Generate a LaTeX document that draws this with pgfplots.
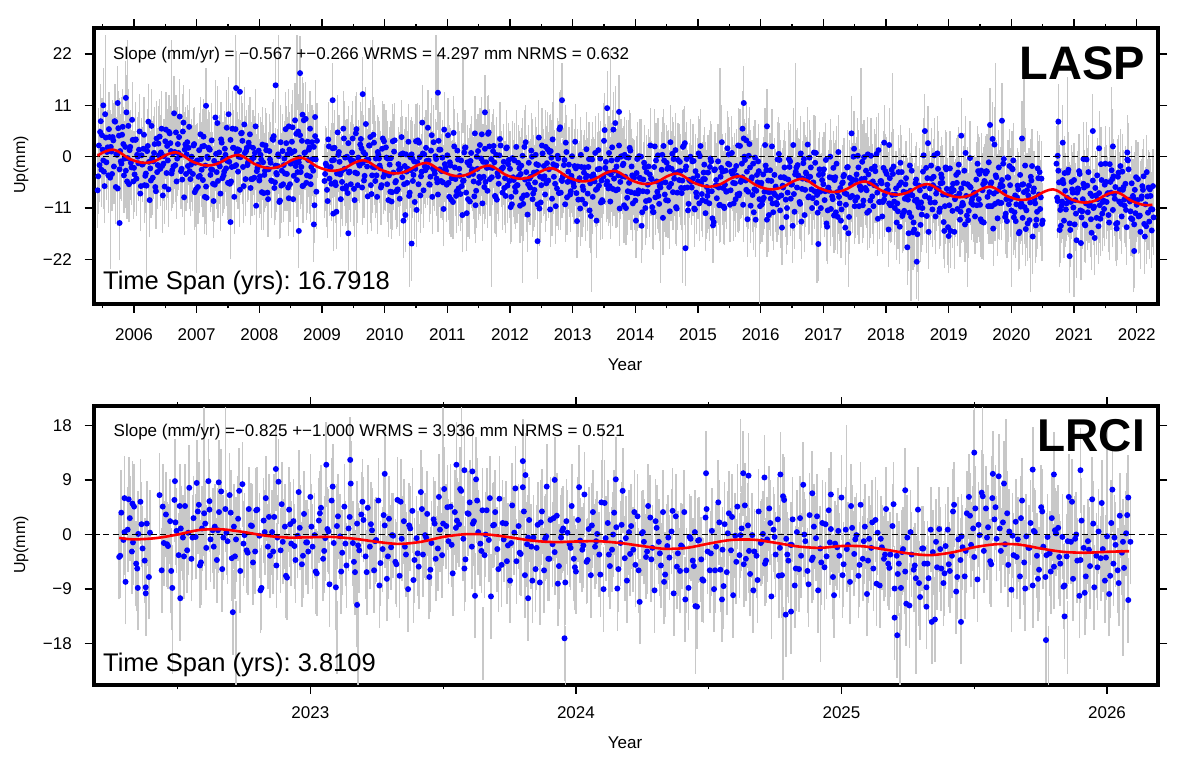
\documentclass[border=0pt]{standalone}
\usepackage{fontspec}
\setmainfont{Liberation Sans}
\usepackage{pgfplots}
\usepackage{pgfplotstable}
\pgfplotsset{compat=1.18}
\frenchspacing
\definecolor{eb}{RGB}{200,200,200}
\definecolor{dotblue}{RGB}{0,0,255}
\definecolor{fitred}{RGB}{255,0,0}

% light-weight marks: a vertical error bar of +-8 mm (top panel: 4.669 pt/mm),
% of +-7 mm (bottom panel: 6.068 pt/mm), and a round dot (zero-length stroke)
\pgfdeclareplotmark{ebarT}{\pgfpathmoveto{\pgfqpoint{0pt}{-37.35pt}}\pgfpathlineto{\pgfqpoint{0pt}{37.35pt}}\pgfusepathqstroke}
\pgfdeclareplotmark{ebarB}{\pgfpathmoveto{\pgfqpoint{0pt}{-42.5pt}}\pgfpathlineto{\pgfqpoint{0pt}{42.5pt}}\pgfusepathqstroke}
\pgfdeclareplotmark{zdot}{\pgfpathmoveto{\pgfqpoint{0pt}{0pt}}\pgfpathlineto{\pgfqpoint{0pt}{0pt}}\pgfusepathqstroke}

% time axis: years since 2000 (tick labels give the calendar year)
\pgfplotstableread{
t y
5.42 -7.2
5.44 2.4
5.46 5.3
5.48 -2.8
5.50 1.5
5.52 -3.2
5.54 9.1
5.56 -1.2
5.58 2.0
5.60 5.9
5.62 -4.5
5.64 1.1
5.66 4.2
5.68 -2.1
5.70 7.5
5.72 0.5
5.74 -6.8
5.76 4.5
5.78 1.2
5.80 -1.5
5.82 6.4
5.84 -4.0
5.86 2.1
5.88 9.5
5.90 -0.3
5.92 -5.9
5.94 2.1
5.96 -2.3
5.98 3.6
6.00 -2.4
6.02 3.6
6.04 -4.7
6.06 0.0
6.08 1.5
6.10 -7.9
6.12 0.3
6.14 -1.6
6.16 4.7
6.18 -4.1
6.20 -6.2
6.22 2.3
6.24 -1.1
6.26 -2.5
6.28 6.6
6.30 -4.5
6.32 0.8
6.34 -6.5
6.36 3.9
6.38 -1.8
6.40 0.3
6.42 -2.6
6.44 6.0
6.46 -8.3
6.48 0.1
6.50 3.3
6.52 -3.5
6.54 -0.8
6.56 5.3
6.58 2.9
6.60 -3.6
6.62 0.7
6.64 9.3
6.66 -1.8
6.68 -5.3
6.70 2.7
6.72 4.2
6.74 0.3
6.76 -2.6
6.78 5.4
6.80 -8.7
6.82 2.6
6.84 0.5
6.86 -2.0
6.88 6.4
6.90 -4.8
6.92 0.0
6.94 -3.7
6.96 2.7
6.98 -1.3
7.00 -1.0
7.02 -6.5
7.04 1.4
7.06 4.8
7.08 -2.8
7.10 -5.0
7.12 2.3
7.14 -1.9
7.16 -8.8
7.18 -0.3
7.20 1.6
7.22 -3.9
7.24 3.5
7.26 -5.8
7.28 -0.9
7.30 8.4
7.32 -3.3
7.34 -5.2
7.36 0.9
7.38 -7.9
7.40 3.0
7.42 -0.6
7.44 -3.2
7.46 0.4
7.48 6.2
7.50 -5.6
7.52 -1.1
7.54 3.6
7.56 -2.2
7.58 1.9
7.60 -8.6
7.62 5.9
7.64 0.8
7.66 -3.2
7.68 1.4
7.70 -0.1
7.72 5.1
7.74 -2.2
7.76 6.9
7.78 -4.8
7.80 1.9
7.82 -1.2
7.84 2.2
7.86 -6.7
7.88 -0.6
7.90 1.9
7.92 -4.5
7.94 6.5
7.96 -3.1
7.98 -1.7
8.00 -5.1
8.02 0.4
8.04 -7.6
8.06 -1.2
8.08 -3.9
8.10 2.4
8.12 -2.6
8.14 -9.1
8.16 1.2
8.18 -1.3
8.20 -5.2
8.22 3.6
8.24 -6.7
8.26 -1.9
8.28 -3.8
8.30 0.5
8.32 -9.7
8.34 3.1
8.36 -3.0
8.38 -5.9
8.40 -0.4
8.42 5.9
8.44 -3.7
8.46 -6.6
8.48 1.5
8.50 -1.5
8.52 3.2
8.54 -9.1
8.56 1.2
8.58 -2.0
8.60 -5.0
8.62 5.4
8.64 -0.2
8.66 -3.3
8.68 3.4
8.70 -6.2
8.72 0.8
8.74 8.1
8.76 -4.0
8.78 -0.7
8.80 2.0
8.82 -5.9
8.84 3.1
8.86 -3.0
8.88 -10.4
8.90 -0.6
8.92 3.4
9.04 -5.2
9.06 -1.5
9.08 -7.1
9.10 3.7
9.12 -4.7
9.14 -2.2
9.16 -0.8
9.18 -12.2
9.20 1.9
9.22 -6.1
9.24 -3.6
9.26 0.4
9.28 -1.1
9.30 -9.1
9.32 -5.4
9.34 6.0
9.36 -2.6
9.38 -6.9
9.40 0.0
9.42 2.9
9.44 -3.2
9.46 -5.9
9.48 0.9
9.50 -0.9
9.52 -9.3
9.54 5.0
9.56 -3.6
9.58 -0.2
9.60 -1.9
9.62 3.8
9.64 -6.6
9.66 1.0
9.68 -4.1
9.70 7.0
9.72 -2.1
9.74 -0.6
9.76 2.4
9.78 -6.1
9.80 -4.0
9.82 4.7
9.84 -2.3
9.86 -0.4
9.88 -8.6
9.90 0.4
9.92 -1.9
9.94 -6.6
9.96 1.7
9.98 -4.3
10.00 -3.5
10.02 2.0
10.04 -5.9
10.06 -9.3
10.08 -1.7
10.10 -0.3
10.12 -7.6
10.14 -3.4
10.16 3.5
10.18 -5.2
10.20 -7.1
10.22 -1.6
10.24 -9.0
10.26 0.5
10.28 -4.4
10.30 -13.7
10.32 -2.0
10.34 0.5
10.36 -5.6
10.38 3.2
10.40 -7.7
10.42 -2.9
10.44 -0.3
10.46 -3.9
10.48 -9.7
10.50 3.3
10.52 -1.2
10.54 -5.9
10.56 -0.1
10.58 -4.2
10.60 7.3
10.62 -7.2
10.64 -2.1
10.66 1.9
10.68 -2.3
10.70 -0.8
10.72 -6.0
10.74 1.3
10.76 -8.6
10.78 3.1
10.80 -3.6
10.82 -0.5
10.84 -5.5
10.86 3.4
10.88 -2.7
10.90 -5.2
10.92 -0.2
10.94 -11.2
10.96 -1.6
10.98 -3.0
11.00 0.3
11.02 -5.6
11.04 -1.2
11.06 -9.2
11.08 -4.4
11.10 5.1
11.12 -2.3
11.14 -8.4
11.16 1.3
11.18 -6.8
11.20 -4.1
11.22 -0.8
11.24 -12.5
11.26 -5.1
11.28 1.9
11.30 -7.7
11.32 -1.2
11.34 -4.0
11.36 -9.6
11.38 0.8
11.40 -2.7
11.42 -5.3
11.44 5.0
11.46 -7.3
11.48 -2.6
11.50 -5.6
11.52 2.5
11.54 -0.4
11.56 -10.0
11.58 -4.3
11.60 1.7
11.62 -1.2
11.64 -7.3
11.66 5.2
11.68 -4.8
11.70 -0.5
11.72 -2.4
11.74 2.3
11.76 -8.4
11.78 0.4
11.80 -3.5
11.82 -5.8
11.84 3.8
11.86 -2.7
11.88 -7.7
11.90 -1.1
11.92 -4.6
11.94 1.8
11.96 -6.2
11.98 -0.7
12.00 -2.6
12.02 -8.6
12.04 -0.3
12.06 -5.0
12.08 -6.5
12.10 2.1
12.12 -6.1
12.14 -4.2
12.16 -10.5
12.18 -1.9
12.20 0.2
12.22 -8.3
12.24 -4.9
12.26 -3.3
12.28 -12.4
12.30 -1.3
12.32 -6.6
12.34 1.3
12.36 -9.1
12.38 -3.4
12.40 -5.5
12.42 -1.6
12.44 -10.2
12.46 4.1
12.48 -4.3
12.50 -6.1
12.52 0.7
12.54 -2.0
12.56 -8.1
12.58 -5.7
12.60 1.6
12.62 -2.7
12.64 -11.3
12.66 -0.2
12.68 3.7
12.70 -4.3
12.72 -5.8
12.74 -1.9
12.76 0.2
12.78 -7.8
12.80 6.3
12.82 -5.0
12.84 -4.3
12.86 -1.8
12.88 -10.2
12.90 1.0
12.92 -5.4
12.94 -1.7
12.96 -8.1
12.98 -4.1
13.00 -5.0
13.02 -6.4
13.04 3.2
13.06 -7.8
13.08 -2.1
13.10 -5.0
13.12 -11.1
13.14 -2.2
13.16 -6.4
13.18 -3.4
13.20 -10.1
13.22 1.6
13.24 -7.9
13.26 -0.5
13.28 -5.7
13.30 -4.2
13.32 -8.6
13.34 -4.3
13.36 0.8
13.38 -13.7
13.40 -2.7
13.42 -6.2
13.44 -0.4
13.46 -5.1
13.48 -9.6
13.50 3.4
13.52 -2.4
13.54 -6.0
13.56 -3.4
13.58 0.8
13.60 -9.6
13.62 -0.8
13.64 -6.9
13.66 -4.7
13.68 7.2
13.70 -2.1
13.72 -7.0
13.74 2.4
13.76 -5.4
13.78 0.1
13.80 -1.8
13.82 -10.4
13.84 -4.3
13.86 -0.1
13.88 -7.4
13.90 -5.6
13.92 1.3
13.94 -2.1
13.96 -10.0
13.98 -4.5
14.00 -9.4
14.02 -3.5
14.04 -7.9
14.06 0.1
14.08 -4.7
14.10 -14.8
14.12 -7.4
14.14 -1.3
14.16 -11.0
14.18 -3.3
14.20 -6.0
14.22 -9.3
14.24 2.4
14.26 -4.8
14.28 -11.8
14.30 -2.2
14.32 -8.7
14.34 -5.3
14.36 0.3
14.38 -10.1
14.40 -6.6
14.42 -2.8
14.44 -13.1
14.46 -0.8
14.48 -5.5
14.50 -1.3
14.52 -9.4
14.54 -6.5
14.56 3.1
14.58 -2.6
14.60 -7.6
14.62 -4.7
14.64 1.4
14.66 -11.1
14.68 -0.7
14.70 -5.0
14.72 -3.1
14.74 -7.8
14.76 2.1
14.78 -6.7
14.80 -2.8
14.82 -0.5
14.84 -11.5
14.86 -5.0
14.88 0.0
14.90 -6.6
14.92 -4.7
14.94 -11.1
14.96 -3.1
14.98 -8.6
15.00 -5.3
15.02 -10.0
15.04 2.3
15.06 -8.0
15.08 -4.8
15.10 -1.7
15.12 -12.1
15.14 -6.5
15.16 -3.4
15.18 -10.0
15.20 -0.4
15.22 -7.4
15.24 -14.7
15.26 -2.9
15.28 -6.2
15.30 -8.9
15.32 -1.0
15.34 -10.4
15.36 -4.3
15.38 3.1
15.40 -6.7
15.42 -11.0
15.44 -3.0
15.46 -7.4
15.48 -1.5
15.50 -1.7
15.52 -7.2
15.54 0.8
15.56 -5.6
15.58 -2.9
15.60 -9.1
15.62 -4.1
15.64 2.4
15.66 -7.9
15.68 -5.4
15.70 -1.5
15.72 -10.3
15.74 0.0
15.76 -5.1
15.78 -3.2
15.80 -7.5
15.82 2.7
15.84 -10.5
15.86 -4.4
15.88 -1.5
15.90 -7.0
15.92 -13.5
15.94 -3.9
15.96 -1.0
15.98 -9.1
16.00 -6.2
16.02 -10.2
16.04 -3.8
16.06 -7.5
16.08 -1.9
16.10 -13.5
16.12 -5.1
16.14 -7.6
16.16 -9.0
16.18 2.2
16.20 -11.9
16.22 -3.9
16.24 -6.4
16.26 -10.2
16.28 -8.7
16.30 -0.7
16.32 -4.4
16.34 -15.2
16.36 -6.6
16.38 -2.3
16.40 -9.2
16.42 -11.0
16.44 -4.9
16.46 -2.2
16.48 -9.0
16.50 -5.9
16.52 2.5
16.54 -11.8
16.56 -3.2
16.58 -6.6
16.60 -4.0
16.62 -9.7
16.64 0.7
16.66 -6.9
16.68 -1.4
16.70 -12.5
16.72 -3.4
16.74 -4.9
16.76 -8.7
16.78 -0.2
16.80 -2.3
16.82 -11.0
16.84 -5.5
16.86 -7.4
16.88 0.8
16.90 -8.2
16.92 -7.4
16.94 -2.7
16.96 -11.0
16.98 -5.0
17.00 -5.9
17.02 -9.3
17.04 -0.7
17.06 -15.0
17.08 -6.6
17.10 -4.4
17.12 -11.2
17.14 -8.5
17.16 -2.4
17.18 -5.0
17.20 -11.9
17.22 -7.6
17.24 1.0
17.26 -10.0
17.28 -13.7
17.30 -5.7
17.32 -4.2
17.34 -7.8
17.36 -10.3
17.38 -2.3
17.40 -16.4
17.42 -4.5
17.44 -5.9
17.46 -8.4
17.48 0.0
17.50 -10.6
17.52 -5.0
17.54 -8.7
17.56 -2.3
17.58 -6.3
17.60 -7.1
17.62 -1.1
17.64 -9.4
17.66 -4.7
17.68 -3.0
17.70 -12.0
17.72 -3.8
17.74 -5.7
17.76 0.2
17.78 -8.5
17.80 -10.6
17.82 -2.1
17.84 -6.2
17.86 -7.7
17.88 1.4
17.90 -9.7
17.92 -5.2
17.94 -12.8
17.96 -2.4
17.98 -8.1
18.00 -7.4
18.02 -6.0
18.04 -15.6
18.06 -4.6
18.08 -10.3
18.10 -8.2
18.12 -2.1
18.14 -11.0
18.16 -6.8
18.18 -10.0
18.20 -3.3
18.22 -15.0
18.24 -5.5
18.26 -12.7
18.28 -7.5
18.30 -9.0
18.32 -4.6
18.34 -8.3
18.36 -16.4
18.38 -1.9
18.40 -12.9
18.42 -8.3
18.44 -14.1
18.46 -9.4
18.48 -4.9
18.50 -16.6
18.52 -10.8
18.54 -7.2
18.56 -9.8
18.58 -11.0
18.60 0.3
18.62 -8.5
18.64 -2.4
18.66 -4.6
18.68 -16.1
18.70 -6.8
18.72 -1.9
18.74 -11.3
18.76 -4.3
18.78 -9.8
18.80 -7.9
18.82 0.7
18.84 -6.9
18.86 -11.1
18.88 -3.8
18.90 -5.6
18.92 -14.0
18.94 -10.6
18.96 -2.7
18.98 -8.2
19.00 -17.0
19.02 -2.5
19.04 -7.6
19.06 -11.6
19.08 -7.2
19.10 -9.1
19.12 -3.9
19.14 -11.2
19.16 -1.7
19.18 -13.5
19.20 -6.8
19.22 -9.9
19.24 -5.7
19.26 -14.5
19.28 -8.4
19.30 -5.9
19.32 -11.6
19.34 -0.3
19.36 -9.9
19.38 -8.5
19.40 -7.9
19.42 -12.8
19.44 -4.9
19.46 -1.5
19.48 -9.1
19.50 -10.3
19.52 -3.0
19.54 -7.2
19.56 -14.1
19.58 -5.5
19.60 -3.1
19.62 -8.6
19.64 -1.2
19.66 -10.6
19.68 -5.5
19.70 3.8
19.72 -7.9
19.74 -10.1
19.76 -4.4
19.78 -13.2
19.80 -2.3
19.82 -6.5
19.84 -9.9
19.86 -6.3
19.88 -0.5
19.90 -12.9
19.92 -9.1
19.94 -4.4
19.96 -10.2
19.98 -6.1
20.00 -11.5
20.02 -2.7
20.04 -13.0
20.06 -8.3
20.08 -10.2
20.10 -6.2
20.12 -16.4
20.14 -3.9
20.16 -10.0
20.18 -13.1
20.20 -7.6
20.22 -1.9
20.24 -11.5
20.26 -14.3
20.28 -6.2
20.30 -9.8
20.32 -5.1
20.34 -17.1
20.36 -6.8
20.38 -10.0
20.40 -13.5
20.42 -2.5
20.44 -8.1
20.46 -11.2
20.48 -4.7
20.50 -13.7
20.72 -1.5
20.74 -9.5
20.76 -5.5
20.78 -11.4
20.80 -10.5
20.82 -5.0
20.84 -13.7
20.86 -7.3
20.88 -10.0
20.90 -3.4
20.92 -9.2
20.94 -15.7
20.96 -5.4
20.98 -7.7
21.00 -5.0
21.02 -9.3
21.04 -17.9
21.06 -6.8
21.08 -3.1
21.10 -11.5
21.12 -13.0
21.14 -9.1
21.16 -6.6
21.18 -14.7
21.20 -0.6
21.22 -11.9
21.24 -10.5
21.26 -7.9
21.28 -16.3
21.30 -5.1
21.32 -10.7
21.34 -6.7
21.36 -13.1
21.38 -9.1
21.40 -7.8
21.42 -13.3
21.44 -5.0
21.46 -9.7
21.48 -11.2
21.50 -1.5
21.52 -9.7
21.54 -7.8
21.56 -14.1
21.58 -5.4
21.60 -2.9
21.62 -11.4
21.64 -8.0
21.66 -6.5
21.68 -15.4
21.70 -4.3
21.72 -9.6
21.74 -2.0
21.76 -12.8
21.78 -7.1
21.80 -9.2
21.82 -5.8
21.84 -15.1
21.86 -0.8
21.88 -9.2
21.90 -11.7
21.92 -5.7
21.94 -8.4
21.96 -14.5
21.98 -12.1
22.00 -10.3
22.02 -4.8
22.04 -12.7
22.06 -16.1
22.08 -8.5
22.10 -7.1
22.12 -14.4
22.14 -10.2
22.16 -3.3
22.18 -12.0
22.20 -13.9
22.22 -8.4
22.24 -15.8
22.26 -6.3
5.51 11.0
5.74 11.5
5.87 12.6
5.77 -14.2
7.15 10.9
7.63 14.7
7.69 13.9
7.54 -14.0
8.26 15.3
8.65 17.9
8.63 -15.9
8.87 -14.5
8.47 6.5
8.57 7.8
8.69 9.0
8.81 6.0
8.89 8.5
9.17 12.1
9.65 13.4
9.42 -16.4
10.43 -18.6
10.85 13.7
11.60 9.5
12.44 -18.1
12.83 12.1
13.55 10.4
13.74 9.6
14.80 -19.6
15.71 6.0
15.73 11.5
15.77 3.5
16.10 6.5
16.92 -18.7
17.45 5.0
17.97 3.0
18.05 2.5
18.34 -19.4
18.49 -22.5
18.62 5.5
19.20 4.5
19.66 6.8
19.85 7.7
20.17 3.9
20.74 0.2
20.75 7.5
20.82 3.0
20.93 -21.3
21.15 -0.5
21.30 5.5
21.40 1.8
21.62 2.2
21.85 0.9
21.96 -20.2
}\topdata

\pgfplotstableread{
t y
5.45 -1.8
5.49 4.6
5.53 -6.3
5.57 1.0
5.61 4.2
5.65 -3.7
5.69 7.6
5.73 0.4
5.77 -2.7
5.81 4.7
5.85 -0.4
5.89 -5.3
5.93 1.4
5.97 7.9
6.01 -3.8
6.05 0.4
6.09 5.4
6.13 -1.7
6.17 -6.1
6.21 1.2
6.25 -9.3
6.29 -0.3
6.33 2.7
6.37 -3.3
6.41 4.3
6.45 -2.0
6.49 -6.4
6.53 2.3
6.57 5.0
6.61 -2.9
6.65 1.0
6.69 -0.4
6.73 8.6
6.77 -4.9
6.81 1.5
6.85 3.1
6.89 -3.1
6.93 -1.2
6.97 -7.6
7.01 -0.8
7.05 -4.1
7.09 2.2
7.13 -8.6
7.17 0.0
7.21 1.5
7.25 -2.8
7.29 -6.0
7.33 7.2
7.37 -2.1
7.41 -4.6
7.45 1.7
7.49 -0.9
7.53 -5.8
7.57 6.0
7.61 -2.0
7.65 1.6
7.69 -7.1
7.73 3.4
7.77 0.8
7.81 -1.8
7.85 4.8
7.89 -4.8
7.93 0.8
7.97 -2.4
8.01 -4.2
8.05 2.6
8.09 -3.0
8.13 -7.7
8.17 -0.6
8.21 3.8
8.25 -5.5
8.29 -2.0
8.33 -9.4
8.37 1.2
8.41 -3.6
8.45 0.5
8.49 -5.9
8.53 6.3
8.57 -1.0
8.61 -3.3
8.65 4.6
8.69 -6.3
8.73 0.9
8.77 3.2
8.81 -4.2
8.85 -0.5
8.89 4.4
9.05 -3.7
9.09 -9.5
9.13 -2.4
9.17 1.8
9.21 -5.5
9.25 5.2
9.29 -3.8
9.33 -6.8
9.37 -0.2
9.41 -7.8
9.45 -0.5
9.49 3.9
9.53 -3.4
9.57 -6.1
9.61 2.6
9.65 -1.3
9.69 0.5
9.73 -8.5
9.77 4.2
9.81 -2.2
9.85 -5.2
9.89 1.0
9.93 -2.5
9.97 3.9
10.01 -3.7
10.05 -0.4
10.09 -7.5
10.13 3.3
10.17 -5.5
10.21 -7.0
10.25 -2.5
10.29 0.7
10.33 -12.5
10.37 -2.6
10.41 -0.1
10.45 -5.2
10.49 -2.6
10.53 3.5
10.57 -8.3
10.61 0.7
10.65 -2.9
10.69 6.2
10.73 -4.3
10.77 -2.5
10.81 0.1
10.85 -8.1
10.89 1.5
10.93 -5.5
10.97 -2.3
11.01 4.6
11.05 -1.9
11.09 -9.7
11.13 -4.8
11.17 -0.6
11.21 -8.0
11.25 -5.2
11.29 2.0
11.33 -9.1
11.37 -0.9
11.41 -3.7
11.45 -10.4
11.49 1.2
11.53 -4.6
11.57 -1.1
11.61 -5.4
11.65 4.9
11.69 -2.3
11.73 1.2
11.77 -8.6
11.81 -4.2
11.85 2.4
11.89 -2.3
11.93 -8.4
11.97 -1.6
12.01 -10.8
12.05 -4.4
12.09 -7.5
12.13 -1.3
12.17 -3.7
12.21 -10.1
12.25 3.1
12.29 -5.9
12.33 -4.3
12.37 -7.9
12.41 0.4
12.45 -1.8
12.49 -9.8
12.53 -4.7
12.57 2.1
12.61 -5.1
12.65 1.2
12.69 -1.6
12.73 -10.6
12.77 -0.4
12.81 -7.7
12.85 -4.1
12.89 3.0
12.93 -3.2
12.97 -7.4
13.01 -5.7
13.05 -2.5
13.09 -9.2
13.13 0.4
13.17 -7.1
13.21 -4.5
13.25 -2.2
13.29 -12.7
13.33 -3.8
13.37 -7.1
13.41 1.4
13.45 -9.8
13.49 -4.3
13.53 -1.1
13.57 -6.8
13.61 -3.8
13.65 5.8
13.69 -7.2
13.73 -4.0
13.77 0.0
13.81 -1.5
13.85 -11.0
13.89 -0.2
13.93 -7.6
13.97 -4.3
14.01 -13.7
14.05 -7.2
14.09 0.0
14.13 -4.9
14.17 -9.5
14.21 -2.1
14.25 -4.7
14.29 -11.9
14.33 -0.8
14.37 -8.4
14.41 -5.6
14.45 2.3
14.49 -9.3
14.53 -2.3
14.57 -5.8
14.61 -0.5
14.65 -10.8
14.69 -3.2
14.73 -6.7
14.77 2.3
14.81 -2.1
14.85 -10.1
14.89 -5.4
14.93 -0.9
14.97 -7.7
15.01 0.7
15.05 -5.7
15.09 -3.4
15.13 -9.6
15.17 -7.4
15.21 -1.0
15.25 -14.0
15.29 -5.0
15.33 -6.6
15.37 -2.4
15.41 -10.7
15.45 -7.5
15.49 0.5
15.53 -3.2
15.57 -10.0
15.61 -2.0
15.65 -8.3
15.69 -5.1
15.73 3.9
15.77 -7.1
15.81 0.2
15.85 -4.8
15.89 -11.9
15.93 -7.3
15.97 -3.1
16.01 -5.6
16.05 -8.8
16.09 -2.9
16.13 -12.5
16.17 -5.2
16.21 -7.8
16.25 -9.9
16.29 0.6
16.33 -8.3
16.37 -4.4
16.41 -12.9
16.45 -0.5
16.49 -6.0
16.53 -8.0
16.57 -2.3
16.61 -4.3
16.65 -13.9
16.69 -0.5
16.73 -3.7
16.77 -8.5
16.81 -7.0
16.85 0.9
16.89 -9.9
16.93 -3.9
16.97 -7.2
17.01 -2.7
17.05 -14.3
17.09 -7.3
17.13 -4.5
17.17 -12.6
17.21 -1.5
17.25 -8.6
17.29 -11.3
17.33 -3.9
17.37 -8.0
17.41 -12.9
17.45 -4.8
17.49 1.7
17.53 -3.8
17.57 -10.6
17.61 -4.8
17.65 -0.1
17.69 -7.2
17.73 -11.6
17.77 -2.6
17.81 -6.1
17.85 0.6
17.89 -9.7
17.93 -5.7
17.97 -9.2
18.01 -3.7
18.05 -10.0
18.09 -2.8
18.13 -9.6
18.17 -14.1
18.21 -6.1
18.25 -3.3
18.29 -11.6
18.33 -7.7
18.37 -12.0
18.41 -3.0
18.45 -15.6
18.49 -9.2
18.53 -6.2
18.57 -12.4
18.61 -6.3
18.65 -12.7
18.69 -8.9
18.73 -4.7
18.77 0.3
18.81 -6.8
18.85 -11.8
18.89 -4.5
18.93 -15.9
18.97 -6.9
19.01 -10.4
19.05 -6.8
19.09 -16.1
19.13 -5.6
19.17 -7.9
19.21 -10.5
19.25 -3.0
19.29 -12.6
19.33 -6.3
19.37 -9.2
19.41 -7.7
19.45 -10.4
19.49 -3.7
19.53 -13.9
19.57 -5.2
19.61 -3.2
19.65 -7.6
19.69 -10.6
19.73 2.6
19.77 -7.4
19.81 -9.9
19.85 -5.0
19.89 -7.6
19.93 -13.8
19.97 -2.0
20.01 -2.5
20.05 -11.9
20.09 -8.7
20.13 -16.1
20.17 -6.0
20.21 -10.8
20.25 -7.2
20.29 -13.6
20.33 -2.0
20.37 -9.0
20.41 -11.8
20.45 -3.3
20.49 -14.4
20.73 -8.8
20.77 -15.7
20.81 -9.6
20.85 -3.5
20.89 -8.8
20.93 -14.3
20.97 -7.0
21.01 -14.5
21.05 -7.7
21.09 -3.7
21.13 -11.7
21.17 -14.5
21.21 -6.2
21.25 -10.0
21.29 -8.4
21.33 -17.4
21.37 -4.0
21.41 -10.4
21.45 -12.2
21.49 -6.0
21.53 -8.0
21.57 -1.6
21.61 -4.8
21.65 -9.0
21.69 -14.2
21.73 -7.1
21.77 -3.2
21.81 -10.5
21.85 -0.6
21.89 -9.6
21.93 -13.4
21.97 -7.1
22.01 -9.3
22.05 -12.6
22.09 -6.3
22.13 -17.1
22.17 -8.5
22.21 -7.0
22.25 -11.3
}\topdataB

\pgfplotstableread{
t y
5.43 -4.2
5.47 7.6
5.51 -0.8
5.55 4.1
5.59 -4.0
5.63 2.1
5.67 3.5
5.71 -6.5
5.75 6.1
5.79 -1.0
5.83 2.7
5.87 -3.0
5.91 6.6
5.95 -1.3
5.99 -5.3
6.03 3.7
6.07 -1.4
6.11 -6.3
6.15 1.7
6.19 -3.6
6.23 7.5
6.27 -5.1
6.31 -1.0
6.35 -7.4
6.39 2.8
6.43 0.9
6.47 -1.5
6.51 5.8
6.55 -7.0
6.59 1.2
6.63 -2.1
6.67 5.2
6.71 0.8
6.75 -3.1
6.79 7.3
6.83 -3.7
6.87 1.9
6.91 -1.7
6.95 2.4
6.99 -7.0
7.03 -4.3
7.07 -0.5
7.11 4.3
7.15 -6.4
7.19 1.9
7.23 -2.7
7.27 -9.5
7.31 0.6
7.35 -1.5
7.39 3.7
7.43 -4.0
7.47 -2.5
7.51 9.1
7.55 -5.3
7.59 1.9
7.63 -1.8
7.67 0.0
7.71 5.0
7.75 -6.3
7.79 1.2
7.83 3.0
7.87 -4.8
7.91 -0.2
7.95 -10.5
7.99 1.3
8.03 -0.6
8.07 -7.8
8.11 1.4
8.15 -2.7
8.19 -5.1
8.23 4.4
8.27 -3.5
8.31 0.1
8.35 -6.2
8.39 -1.8
8.43 2.9
8.47 -8.9
8.51 0.8
8.55 -4.1
8.59 4.9
8.63 -1.2
8.67 -2.2
8.71 7.8
8.75 -5.6
8.79 1.5
8.83 -2.2
8.87 2.1
8.91 -7.5
9.07 -1.9
9.11 2.2
9.15 -5.8
9.19 -0.7
9.23 -11.8
9.27 1.0
9.31 -3.1
9.35 3.9
9.39 -6.3
9.43 -3.4
9.47 -1.0
9.51 -6.9
9.55 5.9
9.59 -1.5
9.63 1.8
9.67 -5.1
9.71 -0.7
9.75 2.4
9.79 -8.0
9.83 3.0
9.87 -4.0
9.91 -0.4
9.95 -6.1
9.99 3.3
10.03 -0.2
10.07 -4.0
10.11 -9.6
10.15 1.1
10.19 -7.4
10.23 -2.8
10.27 4.2
10.31 -5.9
10.35 -3.2
10.39 -8.4
10.43 0.5
10.47 -1.0
10.51 -11.4
10.55 3.0
10.59 -3.2
10.63 0.5
10.67 -0.9
10.71 -5.9
10.75 4.6
10.79 -2.9
10.83 -4.7
10.87 1.5
10.91 -3.1
10.95 5.8
10.99 -6.0
11.03 -8.6
11.07 -4.6
11.11 2.2
11.15 -7.4
11.19 -2.6
11.23 -6.3
11.27 0.9
11.31 -12.1
11.35 -1.8
11.39 -3.0
11.43 -8.5
11.47 0.0
11.51 -4.3
11.55 4.8
11.59 -6.5
11.63 -2.4
11.67 2.2
11.71 -4.4
11.75 -1.2
11.79 -9.2
11.83 0.3
11.87 -2.6
11.91 -6.7
11.95 2.0
11.99 -5.2
12.03 -10.2
12.07 -0.8
12.11 -6.1
12.15 -2.5
12.19 -8.9
12.23 2.1
12.27 -8.2
12.31 -4.7
12.35 0.0
12.39 -7.1
12.43 -3.3
12.47 -11.1
12.51 2.4
12.55 -4.2
12.59 -1.4
12.63 1.0
12.67 -9.0
12.71 -2.3
12.75 -6.8
12.79 5.9
12.83 -5.2
12.87 -0.7
12.91 -8.7
12.95 -5.0
12.99 0.1
13.03 -2.0
13.07 -13.8
13.11 -4.6
13.15 -9.2
13.19 -2.3
13.23 -4.1
13.27 -11.5
13.31 -0.6
13.35 -5.3
13.39 -6.9
13.43 -2.6
13.47 -9.3
13.51 5.7
13.55 -5.3
13.59 -6.3
13.63 2.0
13.67 -3.0
13.71 -0.6
13.75 -11.1
13.79 -4.2
13.83 0.4
13.87 -8.8
13.91 1.9
13.95 -4.0
13.99 -7.8
14.03 -0.5
14.07 -4.5
14.11 -11.9
14.15 -2.3
14.19 -7.5
14.23 -3.8
14.27 -10.8
14.31 2.2
14.35 -7.5
14.39 -6.3
14.43 0.4
14.47 -8.1
14.51 -2.6
14.55 -11.7
14.59 0.6
14.63 -3.5
14.67 -7.7
14.71 -1.1
14.75 -5.1
14.79 2.9
14.83 -6.6
14.87 -5.1
14.91 -1.0
14.95 -11.3
14.99 -4.1
15.03 0.1
15.07 -9.3
15.11 -4.8
15.15 -8.4
15.19 -2.2
15.23 -13.2
15.27 -2.7
15.31 -6.2
15.35 -10.3
15.39 -3.2
15.43 -6.0
15.47 1.8
15.51 -10.3
15.55 -3.7
15.59 -5.7
15.63 -8.1
15.67 2.3
15.71 -4.4
15.75 -0.7
15.79 -13.4
15.83 -2.3
15.87 -8.2
15.91 -0.2
15.95 -5.5
15.99 -10.6
16.03 -9.3
16.07 2.5
16.11 -7.5
16.15 -2.9
16.19 -10.0
16.23 -8.2
16.27 -0.6
16.31 -11.5
16.35 -6.2
16.39 -4.6
16.43 -7.7
16.47 -1.0
16.51 -14.8
16.55 -3.8
16.59 -1.8
16.63 -10.1
16.67 -4.7
16.71 -7.1
16.75 2.6
16.79 -4.3
16.83 -8.9
16.87 -1.3
16.91 -12.0
16.95 -7.5
16.99 -3.7
17.03 -7.4
17.07 -11.5
17.11 0.0
17.15 -9.1
17.19 -4.4
17.23 -12.9
17.27 -6.7
17.31 -5.5
17.35 -15.2
17.39 -2.2
17.43 -8.7
17.47 -5.0
17.51 -9.4
17.55 0.2
17.59 -6.4
17.63 -10.4
17.67 -6.7
17.71 0.5
17.75 -9.4
17.79 -5.3
17.83 -3.1
17.87 -13.3
17.91 -5.3
17.95 -9.7
17.99 -3.1
18.03 -7.1
18.07 -10.4
18.11 -3.7
18.15 -8.1
18.19 -11.7
18.23 -1.3
18.27 -12.2
18.31 -5.9
18.35 -9.2
18.39 -7.3
18.43 -16.2
18.47 -5.7
18.51 -10.1
18.55 -14.6
18.59 -3.2
18.63 -8.4
18.67 2.9
18.71 -9.8
18.75 -6.1
18.79 -12.8
18.83 -2.6
18.87 -5.7
18.91 -8.1
18.95 -2.3
18.99 -15.1
19.03 -15.9
19.07 -5.8
19.11 -8.6
19.15 -3.4
19.19 -11.8
19.23 -10.3
19.27 0.8
19.31 -13.6
19.35 -6.6
19.39 -10.3
19.43 -8.1
19.47 -3.1
19.51 -13.4
19.55 -5.9
19.59 -3.6
19.63 -10.6
19.67 -5.8
19.71 -15.4
19.75 -4.0
19.79 -9.7
19.83 -5.9
19.87 -1.5
19.91 -12.2
19.95 -4.5
19.99 -9.1
20.03 -0.8
20.07 -13.8
20.11 -7.0
20.15 -10.7
20.19 -5.9
20.23 -15.5
20.27 -8.3
20.31 -4.3
20.35 -7.5
20.39 -14.7
20.43 -4.6
20.47 -8.7
20.75 -3.0
20.79 -14.8
20.83 -5.7
20.87 -11.3
20.91 -2.8
20.95 -9.7
20.99 -10.9
21.03 -12.2
21.07 -7.0
21.11 -18.5
21.15 -5.8
21.19 -10.0
21.23 -3.3
21.27 -13.4
21.31 -11.0
21.35 -8.3
21.39 -14.9
21.43 -1.6
21.47 -9.4
21.51 -5.4
21.55 -12.5
21.59 -7.7
21.63 -4.2
21.67 -14.4
21.71 -3.4
21.75 -10.1
21.79 -6.5
21.83 -11.4
21.87 -2.7
21.91 -13.2
21.95 -8.9
21.99 -4.4
22.03 -12.8
22.07 -9.0
22.11 -4.2
22.15 -14.9
22.19 -6.6
22.23 -11.2
22.27 -13.0
}\topdataC

\pgfplotstableread{
t y e
5.55 14 12
5.62 -14 10
5.90 14 11
6.20 -18 9
6.60 15 10
7.00 -17 8
7.62 16 10
7.95 -18 8
8.30 16 10
8.60 18 8
9.55 -19 8
9.80 16 9
10.40 -19 9
10.82 18 8
11.25 13 8
11.70 -20 8
12.20 -20 7
12.70 13 9
13.30 -21 8
13.60 14 9
14.40 -19 8
14.75 -20 7
15.35 11 8
15.98 -24 8
16.55 12 8
16.90 -20 7
17.40 -20 8
17.60 10 9
18.10 9 9
18.40 -22 9
18.52 -23 8
19.30 -20 8
19.75 11 9
20.00 -21 7
20.20 9 8
20.30 -22 7
20.90 9 8
21.00 -23 7
21.60 6 9
21.95 -22 7
}\topspikes

\pgfplotstableread{
t y
5.417 0.20
5.500 0.86
5.583 1.31
5.667 1.51
5.750 1.11
5.833 0.37
5.917 -0.38
6.000 -0.83
6.083 -1.18
6.167 -1.32
6.250 -1.22
6.333 -0.92
6.417 -0.37
6.500 0.29
6.583 0.74
6.667 0.94
6.750 0.54
6.833 -0.20
6.917 -0.95
7.000 -1.40
7.083 -1.75
7.167 -1.89
7.250 -1.79
7.333 -1.49
7.417 -0.94
7.500 -0.28
7.583 0.17
7.667 0.37
7.750 -0.03
7.833 -0.77
7.917 -1.52
8.000 -1.97
8.083 -2.32
8.167 -2.46
8.250 -2.36
8.333 -2.06
8.417 -1.51
8.500 -0.85
8.583 -0.40
8.667 -0.20
8.750 -0.60
8.833 -1.34
8.917 -2.09
9.000 -2.53
9.083 -2.88
9.167 -3.02
9.250 -2.92
9.333 -2.62
9.417 -2.07
9.500 -1.41
9.583 -0.96
9.667 -0.76
9.750 -1.16
9.833 -1.90
9.917 -2.65
10.000 -3.10
10.083 -3.45
10.167 -3.59
10.250 -3.49
10.333 -3.19
10.417 -2.64
10.500 -1.98
10.583 -1.53
10.667 -1.33
10.750 -1.73
10.833 -2.47
10.917 -3.22
11.000 -3.67
11.083 -4.02
11.167 -4.16
11.250 -4.06
11.333 -3.76
11.417 -3.21
11.500 -2.55
11.583 -2.10
11.667 -1.90
11.750 -2.30
11.833 -3.04
11.917 -3.79
12.000 -4.23
12.083 -4.58
12.167 -4.72
12.250 -4.62
12.333 -4.32
12.417 -3.77
12.500 -3.11
12.583 -2.66
12.667 -2.46
12.750 -2.86
12.833 -3.60
12.917 -4.35
13.000 -4.80
13.083 -5.15
13.167 -5.29
13.250 -5.19
13.333 -4.89
13.417 -4.34
13.500 -3.68
13.583 -3.23
13.667 -3.03
13.750 -3.43
13.833 -4.17
13.917 -4.92
14.000 -5.37
14.083 -5.72
14.167 -5.86
14.250 -5.76
14.333 -5.46
14.417 -4.91
14.500 -4.25
14.583 -3.80
14.667 -3.60
14.750 -4.00
14.833 -4.74
14.917 -5.49
15.000 -5.93
15.083 -6.28
15.167 -6.42
15.250 -6.32
15.333 -6.02
15.417 -5.47
15.500 -4.81
15.583 -4.36
15.667 -4.16
15.750 -4.56
15.833 -5.30
15.917 -6.05
16.000 -6.50
16.083 -6.85
16.167 -6.99
16.250 -6.89
16.333 -6.59
16.417 -6.04
16.500 -5.38
16.583 -4.93
16.667 -4.73
16.750 -5.13
16.833 -5.87
16.917 -6.62
17.000 -7.07
17.083 -7.42
17.167 -7.56
17.250 -7.46
17.333 -7.16
17.417 -6.61
17.500 -5.95
17.583 -5.50
17.667 -5.30
17.750 -5.70
17.833 -6.44
17.917 -7.19
18.000 -7.64
18.083 -7.99
18.167 -8.13
18.250 -8.03
18.333 -7.73
18.417 -7.18
18.500 -6.52
18.583 -6.07
18.667 -5.87
18.750 -6.27
18.833 -7.01
18.917 -7.76
19.000 -8.20
19.083 -8.55
19.167 -8.69
19.250 -8.59
19.333 -8.29
19.417 -7.74
19.500 -7.08
19.583 -6.63
19.667 -6.43
19.750 -6.83
19.833 -7.57
19.917 -8.32
20.000 -8.77
20.083 -9.12
20.167 -9.26
20.250 -9.16
20.333 -8.86
20.417 -8.31
20.500 -7.65
20.583 -7.20
20.667 -7.00
20.750 -7.40
20.833 -8.14
20.917 -8.89
21.000 -9.34
21.083 -9.69
21.167 -9.83
21.250 -9.73
21.333 -9.43
21.417 -8.88
21.500 -8.22
21.583 -7.77
21.667 -7.57
21.750 -7.97
21.833 -8.71
21.917 -9.46
22.000 -9.90
22.083 -10.25
22.167 -10.39
22.250 -10.29
}\topfit

\pgfplotstableread{
t y
22.280 -3.7
22.288 3.6
22.296 -0.9
22.304 -7.8
22.312 0.8
22.320 2.7
22.328 -2.8
22.336 4.6
22.344 -4.8
22.352 0.1
22.360 5.4
22.368 -2.3
22.376 -4.3
22.384 1.8
22.392 -7.0
22.432 6.5
22.440 -5.9
22.448 -1.4
22.456 3.3
22.464 -1.9
22.472 2.2
22.480 -8.8
22.488 5.7
22.496 0.6
22.504 -3.4
22.512 1.0
22.520 -0.5
22.528 4.7
22.536 -2.6
22.544 7.7
22.552 -4.0
22.560 2.7
22.568 -0.4
22.576 3.8
22.584 -5.1
22.592 1.0
22.600 3.5
22.608 -2.2
22.616 8.8
22.624 -0.8
22.632 0.7
22.640 1.3
22.648 -4.2
22.656 3.7
22.664 7.1
22.672 -0.5
22.680 4.2
22.688 -1.1
22.696 6.5
22.704 -3.9
22.712 1.3
22.720 -0.8
22.728 2.6
22.736 -6.0
22.744 8.3
22.752 -0.1
22.760 -2.6
22.768 4.2
22.776 1.5
22.784 -4.6
22.792 -2.8
22.800 4.1
22.808 -0.2
22.816 -8.8
22.824 2.3
22.832 6.0
22.840 -2.0
22.848 -3.5
22.856 0.4
22.864 2.9
22.872 -5.1
22.880 8.7
22.888 -2.6
22.896 -1.2
22.904 1.3
22.912 -7.1
22.920 4.1
22.928 -1.5
22.936 2.2
22.944 -4.2
22.952 -0.2
22.960 1.1
22.968 -4.9
22.976 3.4
22.984 -1.3
22.992 -2.8
23.000 6.2
23.008 -2.0
23.016 -0.1
23.024 -6.4
23.032 2.3
23.040 4.4
23.048 -4.0
23.056 -0.6
23.064 0.9
23.072 -8.2
23.080 5.6
23.088 -1.4
23.096 -8.7
23.104 3.0
23.112 -0.3
23.120 -3.0
23.128 4.6
23.136 -5.1
23.144 1.0
23.152 8.4
23.160 -1.4
23.168 -6.2
23.176 1.8
23.184 -2.6
23.192 3.3
23.200 2.4
23.208 -3.6
23.216 4.4
23.224 -2.0
23.232 0.7
23.240 -5.9
23.248 -0.9
23.256 5.6
23.264 -4.7
23.272 -2.4
23.280 1.5
23.288 -7.3
23.296 2.6
23.304 -2.1
23.312 -0.2
23.320 -4.5
23.328 5.7
23.336 -6.8
23.344 -0.7
23.352 2.2
23.360 -3.3
23.368 -9.0
23.376 1.0
23.384 3.9
23.392 -4.2
23.400 -0.6
23.408 -5.3
23.416 7.0
23.424 -3.3
23.432 -0.1
23.440 3.4
23.448 -7.0
23.456 -1.4
23.464 2.5
23.472 -4.0
23.480 -2.3
23.488 0.8
23.496 -3.4
23.504 7.5
23.512 1.4
23.520 -1.1
23.528 4.6
23.536 -6.4
23.544 3.7
23.552 2.3
23.560 1.7
23.568 7.2
23.576 -0.7
23.584 -4.1
23.592 3.5
23.600 5.3
23.608 -2.0
23.616 2.2
23.624 9.1
23.632 0.4
23.640 -1.5
23.648 4.0
23.656 -3.4
23.664 4.0
23.672 -0.9
23.680 -10.2
23.688 1.5
23.696 3.7
23.704 -2.4
23.712 5.9
23.720 -5.0
23.728 -0.8
23.736 1.8
23.744 -1.8
23.752 -7.6
23.760 4.8
23.768 0.3
23.776 -4.4
23.784 1.4
23.792 -3.2
23.800 7.8
23.808 -6.7
23.816 -1.6
23.824 2.4
23.832 -2.0
23.840 -0.5
23.848 -5.7
23.856 1.6
23.864 -7.9
23.872 3.8
23.880 -5.9
23.888 -0.3
23.896 -4.0
23.904 2.4
23.912 -1.6
23.920 -2.9
23.928 3.1
23.936 -5.2
23.944 -0.5
23.952 1.0
23.960 -7.9
23.968 0.3
23.976 -1.6
23.984 4.7
23.992 -4.0
24.000 -6.1
24.008 2.4
24.016 -1.0
24.024 -2.5
24.032 6.6
24.040 -4.5
24.048 0.9
24.056 -6.7
24.064 3.7
24.072 -2.0
24.080 0.1
24.088 -3.3
24.096 5.3
24.104 -9.0
24.112 -0.6
24.120 1.9
24.128 -5.2
24.136 -2.5
24.144 3.6
24.152 1.2
24.160 -5.7
24.168 -1.4
24.176 7.2
24.184 -3.9
24.192 -7.6
24.200 0.4
24.208 1.4
24.216 -2.5
24.224 -5.0
24.232 3.0
24.240 -11.1
24.248 0.2
24.256 -1.2
24.264 -3.7
24.272 4.7
24.280 2.8
24.288 -2.2
24.296 -9.2
24.304 1.1
24.312 -1.2
24.320 -5.1
24.328 3.7
24.336 -6.6
24.344 -1.9
24.352 -3.8
24.360 0.5
24.368 -9.7
24.376 3.0
24.384 -3.1
24.392 -6.0
24.400 -2.0
24.408 3.7
24.416 -5.9
24.424 -8.8
24.432 -0.7
24.440 -4.3
24.448 0.4
24.456 -11.9
24.464 -0.9
24.472 -4.1
24.480 -7.6
24.488 2.8
24.496 -2.8
24.504 -5.9
24.512 0.6
24.520 -9.0
24.528 -2.0
24.536 5.3
24.544 -5.8
24.552 -2.5
24.560 1.7
24.568 -6.2
24.576 3.5
24.584 -2.6
24.592 -10.0
24.600 -0.2
24.608 4.6
24.616 -3.4
24.624 1.0
24.632 -4.9
24.640 -4.0
24.648 1.5
24.656 -6.5
24.664 -0.1
24.672 -2.8
24.680 -3.5
24.688 3.8
24.696 -1.4
24.704 0.1
24.712 -4.8
24.720 -0.8
24.728 4.3
24.736 -10.2
24.744 0.8
24.752 -3.3
24.760 2.5
24.768 -2.2
24.776 -6.7
24.784 5.7
24.792 -0.7
24.800 -4.3
24.808 -1.7
24.816 2.5
24.824 -8.4
24.832 0.4
24.840 -5.7
24.848 -3.5
24.856 8.2
24.864 -1.1
24.872 -6.0
24.880 3.2
24.888 -4.2
24.896 1.3
24.904 -0.6
24.912 -9.2
24.920 -2.3
24.928 1.9
24.936 -5.4
24.944 -3.6
24.952 4.0
24.960 0.9
24.968 -7.0
24.976 -1.5
24.984 -2.1
24.992 -3.5
25.000 6.1
25.008 -4.9
25.016 0.8
25.024 -1.7
25.032 -7.8
25.040 1.1
25.048 -3.2
25.056 -0.1
25.064 -6.8
25.072 4.9
25.080 -4.0
25.088 1.3
25.096 -9.8
25.104 -0.7
25.112 -2.2
25.120 -5.6
25.128 2.4
25.136 0.3
25.144 -8.4
25.152 -2.1
25.160 -4.0
25.168 4.2
25.176 -4.8
25.184 -3.3
25.192 1.4
25.200 -8.9
25.208 -3.5
25.216 -4.8
25.224 -8.8
25.232 -2.4
25.240 -6.1
25.248 -0.5
25.256 -11.7
25.264 -3.3
25.272 -5.8
25.280 -7.2
25.288 4.1
25.296 -10.3
25.304 -2.3
25.312 -4.8
25.320 -8.7
25.328 -7.2
25.336 0.8
25.344 -2.9
25.352 -14.0
25.360 -5.4
25.368 0.9
25.376 -5.6
25.384 -8.0
25.392 -1.9
25.400 0.8
25.408 -6.0
25.416 -3.5
25.424 4.9
25.432 -9.4
25.440 -0.8
25.448 -4.2
25.456 -2.1
25.464 -6.9
25.472 3.5
25.480 6.2
25.488 -1.7
25.496 1.0
25.504 4.3
25.512 -7.4
25.520 -0.1
25.528 6.9
25.536 -2.7
25.544 4.3
25.552 1.2
25.560 -4.4
25.568 6.0
25.576 2.5
25.584 -0.7
25.592 9.6
25.600 -2.7
25.608 2.0
25.616 -1.6
25.624 3.5
25.632 0.5
25.640 -9.1
25.648 -3.4
25.656 2.1
25.664 -0.8
25.672 -6.9
25.680 5.6
25.688 -4.6
25.696 -0.3
25.704 -2.2
25.712 1.9
25.720 -8.4
25.728 0.4
25.736 -3.5
25.744 -5.8
25.752 4.5
25.760 -2.0
25.768 -7.0
25.776 -0.4
25.784 -3.1
25.792 2.7
25.800 -5.3
25.808 0.2
25.816 1.1
25.824 -4.8
25.832 -0.4
25.840 -8.4
25.848 -3.6
25.856 6.2
25.864 -1.2
25.872 -7.3
25.880 -0.7
25.888 -4.3
25.896 -10.1
25.904 2.3
25.912 -2.2
25.920 -6.9
25.928 -1.1
25.936 -5.2
25.944 5.8
25.952 -8.7
25.960 -3.5
25.968 0.5
25.976 -3.9
25.984 -2.4
25.992 -7.6
26.000 -0.3
26.008 -9.8
26.016 1.9
26.024 -4.8
26.032 -1.7
26.040 -5.9
26.048 3.1
26.056 -3.0
26.064 -5.5
26.072 0.2
26.080 -10.8
26.088 -1.2
22.708 -12.8
22.510 -10.5
22.380 -9.7
22.350 -8.8
23.176 -11.6
23.620 -10.1
23.957 -17.1
23.820 -10.5
23.800 12.1
23.150 12.3
23.060 11.5
22.870 10.8
22.490 8.8
22.655 8.6
23.920 9.0
23.890 7.9
23.810 9.8
23.580 10.6
23.610 10.4
23.550 11.5
23.280 10.0
25.500 13.5
25.720 10.7
25.800 9.9
25.900 10.6
25.570 10.0
26.020 7.4
26.080 6.1
25.770 -17.4
25.840 -13.5
25.450 -14.4
25.210 -16.6
25.200 -13.7
25.320 -11.9
24.790 -13.2
24.810 -12.7
24.450 -11.8
24.550 -10.7
24.490 10.1
24.630 10.1
24.650 9.7
24.710 9.4
24.770 9.9
24.150 9.1
24.890 6.8
24.960 6.6
25.240 7.3
22.300 6.0
22.330 5.1
22.620 5.5
22.580 4.9
}\botdata

\pgfplotstableread{
t y
22.284 -3.5
22.300 0.4
22.316 5.8
22.332 -1.3
22.348 -5.6
22.364 1.7
22.380 -8.7
22.396 0.3
22.444 4.6
22.460 -1.6
22.476 -6.0
22.492 2.0
22.508 4.7
22.524 -3.6
22.540 0.3
22.556 -0.5
22.572 8.5
22.588 -4.6
22.604 1.8
22.620 4.1
22.636 -2.0
22.652 0.7
22.668 -5.7
22.684 0.3
22.700 3.6
22.716 -3.6
22.732 7.2
22.748 -1.5
22.764 -3.0
22.780 1.4
22.796 4.0
22.812 -9.2
22.828 0.4
22.844 2.9
22.860 -2.8
22.876 -0.5
22.892 5.0
22.908 -6.8
22.924 1.7
22.940 -1.9
22.956 7.0
22.972 -3.5
22.988 -1.3
23.004 1.3
23.020 -6.1
23.036 3.5
23.052 -2.7
23.068 0.5
23.084 7.9
23.100 1.4
23.116 -6.1
23.132 -1.5
23.148 2.9
23.164 -4.5
23.180 -1.8
23.196 5.4
23.212 -6.2
23.228 1.7
23.244 -1.1
23.260 -8.4
23.276 3.2
23.292 -3.6
23.308 -0.1
23.324 -4.9
23.340 5.4
23.356 -2.0
23.372 1.5
23.388 -7.5
23.404 -3.1
23.420 4.2
23.436 -0.5
23.452 -5.8
23.468 1.8
23.484 6.2
23.500 1.8
23.516 4.5
23.532 -1.7
23.548 1.1
23.564 7.5
23.580 -5.6
23.596 3.4
23.612 1.8
23.628 5.6
23.644 -2.7
23.660 0.0
23.676 6.0
23.692 1.6
23.708 -5.7
23.724 1.9
23.740 -4.4
23.756 -1.4
23.772 7.6
23.788 -3.0
23.804 3.8
23.820 -0.5
23.836 -7.6
23.852 -2.2
23.868 2.0
23.884 -0.7
23.900 -4.0
23.916 2.7
23.932 -8.1
23.948 0.6
23.964 2.2
23.980 -2.2
23.996 -5.4
24.012 7.8
24.028 -1.8
24.044 -4.2
24.060 1.5
24.076 -1.1
24.092 -6.6
24.108 5.2
24.124 -3.3
24.140 0.0
24.156 -8.9
24.172 1.6
24.188 -0.6
24.204 -3.2
24.220 3.7
24.236 -5.9
24.252 0.4
24.268 -2.8
24.284 -4.1
24.300 2.2
24.316 -3.1
24.332 -7.8
24.348 -0.5
24.364 3.9
24.380 -5.3
24.396 -1.8
24.412 -10.7
24.428 -0.4
24.444 -5.2
24.460 -1.0
24.476 -7.4
24.492 4.2
24.508 -3.1
24.524 -5.9
24.540 2.0
24.556 -8.5
24.572 0.2
24.588 2.9
24.604 -4.5
24.620 -0.1
24.636 4.8
24.652 -2.7
24.668 -9.2
24.684 -7.5
24.700 -1.1
24.716 -4.3
24.732 1.9
24.748 -0.4
24.764 -6.8
24.780 6.3
24.796 -3.3
24.812 -1.7
24.828 -5.6
24.844 2.7
24.860 0.0
24.876 -8.2
24.892 -3.8
24.908 3.0
24.924 -4.6
24.940 1.7
24.956 -1.3
24.972 -10.0
24.988 0.6
25.004 -6.7
25.020 -2.4
25.036 4.7
25.052 -0.8
25.068 -5.0
25.084 -1.1
25.100 -4.3
25.116 2.0
25.132 -8.1
25.148 -0.7
25.164 -3.3
25.180 -5.5
25.196 5.0
25.212 -6.5
25.228 -2.9
25.244 -11.4
25.260 0.4
25.276 -5.1
25.292 -8.0
25.308 -2.3
25.324 -4.8
25.340 -14.4
25.356 -1.2
25.372 -2.4
25.388 -6.4
25.404 -4.9
25.420 3.8
25.436 -7.0
25.452 -0.3
25.468 -2.7
25.484 3.1
25.500 -3.7
25.516 1.6
25.532 6.3
25.548 -0.5
25.564 -4.9
25.580 4.5
25.596 1.0
25.612 8.4
25.628 -5.0
25.644 -0.2
25.660 -3.7
25.676 2.7
25.692 -8.9
25.708 -2.2
25.724 0.6
25.740 -7.3
25.756 3.8
25.772 -3.4
25.788 -6.1
25.804 0.7
25.820 -3.7
25.836 -8.6
25.852 -1.1
25.868 5.4
25.884 0.0
25.900 -4.2
25.916 -9.6
25.932 -2.5
25.948 1.8
25.964 -5.4
25.980 5.2
25.996 -3.8
26.012 -6.8
26.028 -0.5
26.044 -8.0
26.060 -1.2
26.076 3.2
}\botdataB

\pgfplotstableread{
t y e
22.600 12 9
22.680 14 7
22.720 -18 7
22.480 -16 7
23.100 -17 6
23.180 -18 7
23.500 14 7
23.570 13 8
23.650 -18 6
23.960 -20 5
24.100 12 6
24.450 -17 6
24.620 13 6
24.780 -18 6
24.920 -16 5
25.020 12 6
25.220 -19 6
25.280 -17 6
25.500 14 7
25.530 13 8
25.620 12 7
25.780 -20 5
25.850 -17 6
26.000 12 6
26.060 -15 5
}\botspikes

\pgfplotstableread{
t y
22.280 -0.55
22.333 -0.80
22.417 -0.60
22.500 0.00
22.583 0.75
22.667 0.85
22.750 0.40
22.833 -0.20
22.917 -0.50
23.000 -0.45
23.083 -0.40
23.167 -0.70
23.250 -1.20
23.333 -1.55
23.417 -1.20
23.500 -0.40
23.583 0.05
23.667 0.00
23.750 -0.45
23.833 -1.00
23.917 -1.25
24.000 -1.15
24.083 -1.10
24.167 -1.40
24.250 -1.90
24.333 -2.35
24.417 -2.20
24.500 -1.50
24.583 -0.90
24.667 -0.85
24.750 -1.35
24.833 -1.95
24.917 -2.20
25.000 -1.90
25.083 -1.95
25.167 -2.50
25.250 -3.10
25.333 -3.40
25.417 -2.95
25.500 -2.10
25.583 -1.60
25.667 -1.65
25.750 -2.30
25.833 -2.85
25.917 -3.00
26.000 -2.85
26.083 -2.75
}\botfit

\pgfplotsset{
  gpsframe/.style={
    anchor=south west, scale only axis,
    clip marker paths=true,
    axis line style={line width=4pt},
    tick align=outside, tick pos=both,
    major tick length=9pt, minor tick length=4.5pt,
    tick style={black, line width=1.3pt},
    ticklabel style={font=\fontsize{17}{20}\selectfont},
    xticklabel style={inner sep=0pt},
    yticklabel style={inner sep=0pt},
  },
  gbarT/.style={only marks, color=eb, mark=ebarT, mark options={line width=1.2pt}},
  gbarB/.style={only marks, color=eb, mark=ebarB, mark options={line width=1.7pt}},
  gdot/.style={only marks, color=dotblue, mark=zdot, mark options={line width=6pt, line cap=round}},
}

\begin{document}
\begin{tikzpicture}
\useasboundingbox (0pt,0pt) rectangle (1180pt,757pt);

% ---------------- top panel: LASP ----------------
\begin{axis}[gpsframe,
  at={(93.5pt,453pt)}, width=1064.5pt, height=275.5pt,
  xmin=5.354, xmax=22.34, ymin=-31.55, ymax=27.46,
  xtick={6,7,...,22},
  xticklabels={2006,2007,2008,2009,2010,2011,2012,2013,2014,2015,2016,2017,2018,2019,2020,2021,2022},
  minor xtick={5.5,6.5,...,21.5},
  ytick={-22,-11,0,11,22},
  yticklabels={−22,−11,0,11,22},
  xticklabel shift=15pt, yticklabel shift=12.5pt,
]
\addplot[gbarT] table[x=t,y=y] {\topdata};
\addplot[gbarT] table[x=t,y=y] {\topdataB};
\addplot[gbarT] table[x=t,y=y] {\topdataC};
\addplot[draw=none, forget plot, error bars/.cd, y dir=both, y explicit, error mark=none,
  error bar style={draw=eb, line width=1.2pt}] table[x=t,y=y,y error=e] {\topspikes};
\addplot[gdot] table[x=t,y=y] {\topdata};
\addplot[gdot] table[x=t,y=y] {\topdataB};
\addplot[gdot] table[x=t,y=y] {\topdataC};
\addplot[black, line width=1.3pt, dash pattern=on 6pt off 3.5pt] coordinates {(5.354,0) (22.34,0)};
\addplot[fitred, line width=2.6pt, smooth] table[x=t,y=y] {\topfit};
\end{axis}

% ---------------- bottom panel: LRCI ----------------
\begin{axis}[gpsframe,
  at={(93.5pt,72pt)}, width=1064.5pt, height=278.5pt,
  xmin=22.1833, xmax=26.192, ymin=-24.8, ymax=21.1,
  xtick={23,24,25,26},
  xticklabels={2023,2024,2025,2026},
  minor xtick={22.5,23.5,24.5,25.5},
  ytick={-18,-9,0,9,18},
  yticklabels={−18,−9,0,9,18},
  xticklabel shift=12.6pt, yticklabel shift=12.5pt,
]
\addplot[gbarB] table[x=t,y=y] {\botdata};
\addplot[gbarB] table[x=t,y=y] {\botdataB};
\addplot[draw=none, forget plot, error bars/.cd, y dir=both, y explicit, error mark=none,
  error bar style={draw=eb, line width=1.4pt}] table[x=t,y=y,y error=e] {\botspikes};
\addplot[gdot] table[x=t,y=y] {\botdata};
\addplot[gdot] table[x=t,y=y] {\botdataB};
\addplot[black, line width=1.3pt, dash pattern=on 6pt off 3.5pt] coordinates {(22.1833,0) (26.192,0)};
\addplot[fitred, line width=2.6pt, smooth] table[x=t,y=y] {\botfit};
\end{axis}

% ---------------- texts ----------------
\node[anchor=base west, inner sep=0pt, font=\fontsize{17}{20}\selectfont] at (113pt,697.7pt)
  {Slope (mm/yr) = −0.567 +−0.266 WRMS = 4.297 mm NRMS = 0.632};
\node[anchor=base east, inner sep=0pt, font=\fontsize{47}{50}\selectfont\bfseries] at (1145pt,677pt) {LASP};
\node[anchor=base west, inner sep=0pt, font=\fontsize{25.5}{28}\selectfont] at (103pt,467pt) {Time Span (yrs): 16.7918};

\node[anchor=base west, inner sep=0pt, font=\fontsize{17}{20}\selectfont] at (113.5pt,320.3pt)
  {Slope (mm/yr) =−0.825 +−1.000 WRMS = 3.936 mm NRMS = 0.521};
\node[anchor=base east, inner sep=0pt, font=\fontsize{46}{50}\selectfont\bfseries] at (1145pt,305.3pt) {LRCI};
\node[anchor=base west, inner sep=0pt, font=\fontsize{25.5}{28}\selectfont] at (103pt,85.3pt) {Time Span (yrs): 3.8109};

\node[rotate=90, inner sep=0pt, font=\fontsize{16}{19}\selectfont] at (21pt,592pt) {Up(mm)};
\node[rotate=90, inner sep=0pt, font=\fontsize{16}{19}\selectfont] at (21pt,212pt) {Up(mm)};
\node[inner sep=0pt, font=\fontsize{17}{20}\selectfont] at (625pt,392pt) {Year};
\node[inner sep=0pt, font=\fontsize{17}{20}\selectfont] at (625pt,14pt) {Year};
\end{tikzpicture}
\end{document}
